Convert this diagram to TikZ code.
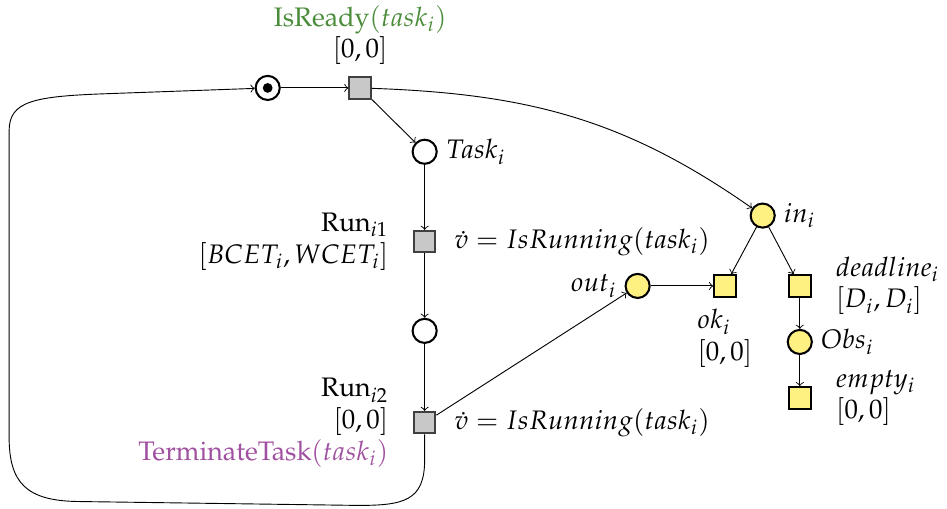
\documentclass[tikz,border=0pt,11pt]{standalone}
\usepackage[T1]{fontenc}
\usepackage{amsmath}
\usepackage{mathpazo}
\usepackage{tikz}
\usetikzlibrary{positioning}
\definecolor{readygreen}{RGB}{74,140,58}
\definecolor{termpurple}{RGB}{160,80,160}
\definecolor{obsyellow}{RGB}{255,240,130}
\definecolor{transgray}{RGB}{200,200,200}

\begin{document}
\begin{tikzpicture}[
    font=\fontsize{11.7}{13.8}\selectfont,
    place/.style={circle, draw, line width=0.9pt, minimum size=0.37cm, inner sep=0pt},
    trans/.style={rectangle, draw=black!75, fill=transgray, line width=0.9pt, minimum size=0.33cm, inner sep=0pt},
    obsplace/.style={place, fill=obsyellow},
    obstrans/.style={trans, draw=black, fill=obsyellow},
    arc/.style={->},
    txt/.style={inner sep=2pt}
  ]
  \useasboundingbox (0,0) rectangle (14.54,7.81);
  \node[place] (start) at (4.11,6.46) {};
  \node[circle, fill, minimum size=0.15cm, inner sep=0pt] (token) at (start) {};
  \node[trans] (isready) at (5.53,6.46) {};
  \node[place] (task) at (6.52,5.48) {};
  \node[trans] (run1) at (6.52,4.10) {};
  \node[place] (mid) at (6.52,2.73) {};
  \node[trans] (run2) at (6.52,1.32) {};
  \node[obsplace] (out) at (9.79,3.42) {};
  \node[obsplace] (in) at (11.71,4.50) {};
  \node[obstrans] (ok) at (11.13,3.42) {};
  \node[obstrans] (deadline) at (12.28,3.42) {};
  \node[obsplace] (obs) at (12.28,2.56) {};
  \node[obstrans] (empty) at (12.28,1.70) {};

  \node[txt, above=0.1cm of isready, align=center] (isreadylbl) {\textcolor{readygreen}{IsReady$(task_i)$}\\ $[0,0]$};
  \node[txt, right=0.05cm of task] (tasklbl) {$Task_i$};
  \node[txt, left=0.3cm of run1, align=right] (run1lbl) {Run$_{i1}$\\ $[BCET_i, WCET_i]$};
  \node[txt, right=0.2cm of run1] (run1upd) {$\dot{v} = IsRunning(task_i)$};
  \node[txt, left=0.3cm of run2, align=right] (run2lbl) {Run$_{i2}$\\ $[0,0]$\\ \textcolor{termpurple}{TerminateTask$(task_i)$}};
  \node[txt, right=0.2cm of run2] (run2upd) {$\dot{v} = IsRunning(task_i)$};
  \node[txt, left=0.05cm of out] (outlbl) {$out_i$};
  \node[txt, right=0.05cm of in] (inlbl) {$in_i$};
  \node[txt, below=0.1cm of ok, align=left] (oklbl) {$ok_i$\\ $[0,0]$};
  \node[txt, right=0.3cm of deadline, align=left] (deadlinelbl) {$deadline_i$\\ $[D_i,D_i]$};
  \node[txt, right=0.05cm of obs] (obslbl) {$Obs_i$};
  \node[txt, right=0.3cm of empty, align=left] (emptylbl) {$empty_i$\\ $[0,0]$};

  \draw[arc] (start) -- (isready);
  \draw[arc] (isready) -- (task);
  \draw[arc] (isready) to[out=-2, in=145] (in);
  \draw[arc] (task) -- (run1);
  \draw[arc] (run1) -- (mid);
  \draw[arc] (mid) -- (run2);
  \draw[arc] (run2) -- (out);
  \draw[arc] (out) -- (ok);
  \draw[arc] (in) -- (ok);
  \draw[arc] (in) -- (deadline);
  \draw[arc] (deadline) -- (obs);
  \draw[arc] (obs) -- (empty);
  \draw[arc] (run2.south) -- (6.52,0.75) .. controls (6.52,0.12) and (6.2,0.05) .. (5.5,0.05)
    -- (1.2,0.11) .. controls (0.4,0.12) and (0.14,0.4) .. (0.14,1.1)
    -- (0.14,5.8) .. controls (0.14,6.25) and (0.5,6.33) .. (1.6,6.37) -- (start);
\end{tikzpicture}
\end{document}
